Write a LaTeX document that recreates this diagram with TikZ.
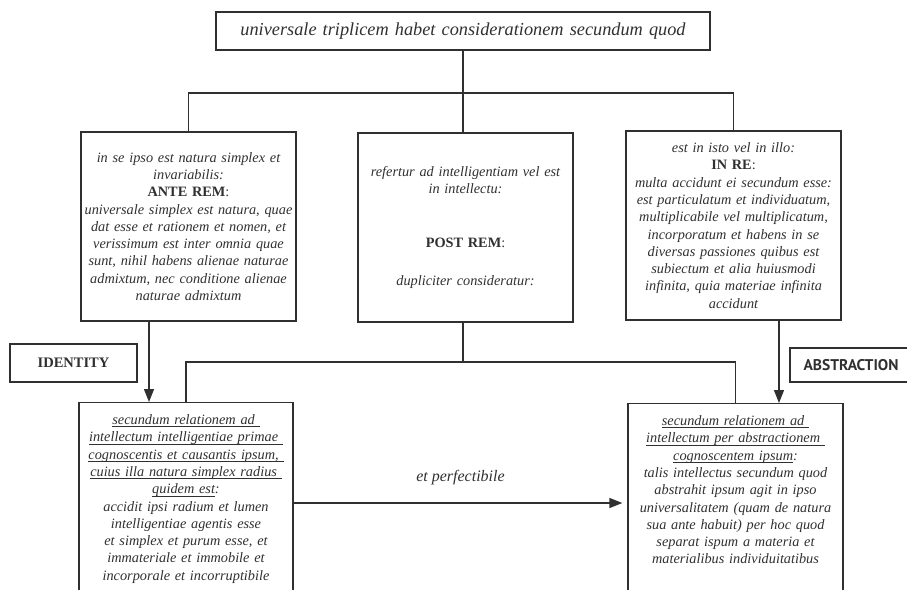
\documentclass[tikz,border=0pt]{standalone}
\usepackage{fontspec}
\setmainfont{Liberation Serif}
\newfontfamily\tagsans{PT Sans}
\usetikzlibrary{arrows.meta}
\definecolor{ink}{HTML}{303030}
\newcommand\uln[1]{\leavevmode\setbox0=\hbox{#1}\rlap{\rule[-2.4pt]{\wd0}{0.6pt}}\box0}

\begin{document}
\begin{tikzpicture}[x=1pt, y=-1pt, color=ink, line width=1.2pt,
    box/.style={draw, rectangle, align=center, inner sep=0pt, text width=213pt,
      minimum width=215pt, font=\itshape\fontsize{14.3}{17.3}\selectfont},
    openbox/.style={box, anchor=north, inner ysep=12pt, text depth=220pt},
    tag/.style={draw, rectangle, inner sep=0pt, font=\bfseries\fontsize{14.5}{16}\selectfont},
    arr/.style={-{Triangle[length=13pt,width=10pt]}}]
            \useasboundingbox (0,0) rectangle (907,589);
            \clip (0,0) rectangle (907,589);
            \node [box, text width=490pt, minimum width=494pt, minimum height=38pt,
              font=\itshape\fontsize{18.3}{21}\selectfont] (top) at (463,31)
              {universale triplicem habet considerationem secundum quod};
            \node [box, minimum height=189pt] (ante) at (188.5,226.5)
              {in se ipso est natura simplex et\\ invariabilis:\\
               {\upshape\bfseries ANTE REM}{\upshape :}\\
               universale simplex est natura, quae\\ dat esse et rationem et nomen, et\\
               verissimum est inter omnia quae\\ sunt, nihil habens alienae naturae\\
               admixtum, nec conditione alienae\\ naturae admixtum};
            \node [box, minimum height=189pt] (post) at (465.5,227.5)
              {refertur ad intelligentiam vel est\\ in intellectu:\\[37pt]
               {\upshape\bfseries POST REM}{\upshape :}\\[21pt]
               dupliciter consideratur:};
            \node [box, minimum height=189pt] (inre) at (733.5,225.5)
              {est in isto vel in illo:\\ {\upshape\bfseries IN RE}{\upshape :}\\
               multa accidunt ei secundum esse:\\ est particulatum et individuatum,\\
               multiplicabile vel multiplicatum,\\ incorporatum et habens in se\\
               diversas passiones quibus est\\ subiectum et alia huiusmodi\\
               infinita, quia materiae infinita\\ accidunt};
            \node [tag, minimum width=127pt, minimum height=38pt] (ident) at (73.5,363) {IDENTITY};
            \node [tag, minimum width=122pt, minimum height=34pt, font=\tagsans\bfseries\fontsize{15.5}{17}\selectfont]
              (abstr) at (851,365) {ABSTRACTION};
            \node [openbox, text width=212pt, minimum width=214pt] (lbox) at (186,402)
              {\uln{secundum relationem ad\ }\\ \uln{intellectum intelligentiae primae\ }\\
               \uln{cognoscentis et causantis ipsum,\ }\\ \uln{cuius illa natura simplex radius\ }\\
               \uln{quidem est}:\\ accidit ipsi radium et lumen\\ intelligentiae agentis esse\\
               et simplex et purum esse, et\\ immateriale et immobile et\\ incorporale et incorruptibile};
            \node [openbox] (rbox) at (735.5,403)
              {\uln{secundum relationem ad\ }\\ \uln{intellectum per abstractionem\ }\\
               \uln{cognoscentem ipsum}:\\ talis intellectus secundum quod\\
               abstrahit ipsum agit in ipso\\ universalitatem (quam de natura\\
               sua ante habuit) per hoc quod\\ separat ispum a materia et\\
               materialibus individuitatibus};
            \coordinate (j1) at (463,93);
            \coordinate (j2) at (463,362);
            \coordinate (ya) at (0,503);
            \draw (top) -- (post.north -| j1);
            \draw (ante.north) |- (j1) -| (inre.north);
            \draw (post.south -| j2) -- (j2);
            \draw (lbox.north) |- (j2) -| (rbox.north);
            \draw [arr] ([xshift=-39.5pt]ante.south) -- ([xshift=-39.5pt]ante.south |- lbox.north);
            \draw [arr] ([xshift=45.5pt]inre.south) -- ([xshift=45.5pt]inre.south |- rbox.north);
            \draw [arr, shorten >=5pt] (lbox.east |- ya) --
              node [above=14pt, font=\itshape\fontsize{16}{18}\selectfont] {et perfectibile} (rbox.west |- ya);
        \end{tikzpicture}
\end{document}
